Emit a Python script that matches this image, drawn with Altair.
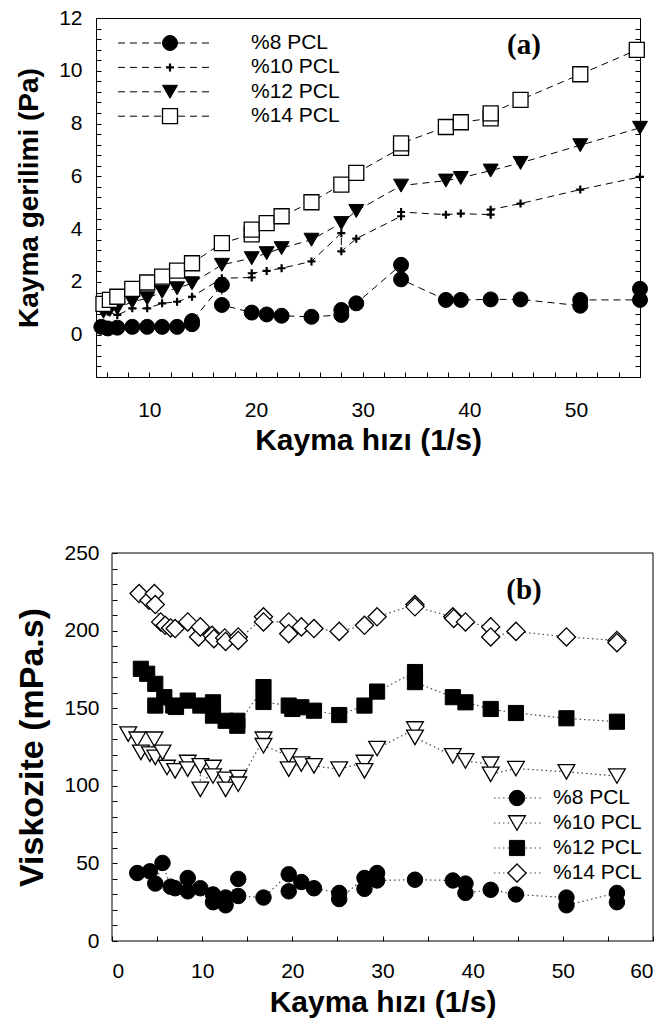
import altair as alt
import pandas as pd

names = ["%8 PCL", "%10 PCL", "%12 PCL", "%14 PCL"]

# ---------------- (a) shear stress ----------------
a8_x = [5.5, 6.1, 7.0, 8.4, 9.8, 11.2, 12.6, 14.0, 14.0, 16.8, 16.8, 19.6, 21.0, 22.4, 25.2, 28.0, 28.0, 29.4, 33.6, 33.6, 37.8, 39.2, 42.0, 44.8, 50.4, 50.4, 56.0, 56.0]
a8_y = [0.30, 0.24, 0.27, 0.30, 0.30, 0.30, 0.30, 0.40, 0.52, 1.89, 1.13, 0.84, 0.77, 0.72, 0.68, 0.75, 0.94, 1.19, 2.65, 2.10, 1.32, 1.32, 1.34, 1.34, 1.10, 1.32, 1.32, 1.74]
a10_x = [6.1, 7.0, 8.4, 9.8, 11.2, 12.6, 14.0, 16.8, 19.6, 19.6, 21.0, 22.4, 25.2, 28.0, 28.0, 29.4, 33.6, 33.6, 37.8, 39.2, 42.0, 42.0, 44.8, 50.4, 56.0]
a10_y = [0.87, 0.75, 1.00, 1.00, 1.19, 1.25, 1.44, 2.14, 2.17, 2.33, 2.42, 2.52, 2.78, 3.85, 3.16, 3.64, 4.49, 4.65, 4.55, 4.59, 4.55, 4.74, 4.97, 5.50, 5.98]
a12_x = [5.7, 6.3, 7.0, 8.4, 9.8, 11.2, 12.6, 14.0, 16.8, 19.6, 21.0, 22.4, 25.2, 28.0, 29.4, 33.6, 37.8, 39.2, 42.0, 44.8, 50.4, 56.0]
a12_y = [0.87, 0.94, 1.00, 1.25, 1.38, 1.63, 1.76, 1.95, 2.65, 2.90, 3.09, 3.28, 3.60, 4.23, 4.69, 5.65, 5.84, 5.94, 6.22, 6.51, 7.18, 7.84]
a14_x = [5.7, 6.3, 7.0, 8.4, 9.8, 11.2, 12.6, 14.0, 16.8, 19.6, 19.6, 21.0, 22.4, 25.2, 28.0, 29.4, 33.6, 33.6, 37.8, 39.2, 42.0, 42.0, 44.8, 50.4, 55.7]
a14_y = [1.17, 1.32, 1.44, 1.74, 1.98, 2.20, 2.43, 2.71, 3.47, 3.80, 3.98, 4.23, 4.49, 5.02, 5.69, 6.13, 7.08, 7.25, 7.87, 8.05, 8.20, 8.39, 8.90, 9.87, 10.79]

# ---------------- (b) viscosity ----------------
b8_x = [2.8, 4.2, 4.8, 5.6, 6.5, 7.0, 8.4, 8.4, 9.8, 11.2, 11.2, 12.6, 12.6, 14.0, 14.0, 16.8, 19.6, 19.6, 21.0, 22.4, 25.2, 25.2, 28.0, 28.0, 29.4, 29.4, 33.6, 37.8, 39.2, 39.2, 42.0, 44.8, 50.4, 50.4, 56.0, 56.0]
b8_y = [43.8, 44.9, 37.0, 50.3, 35.0, 34.0, 40.6, 32.0, 34.0, 30.0, 25.0, 28.0, 23.0, 40.0, 29.0, 28.0, 43.0, 32.0, 38.0, 34.0, 31.0, 27.0, 40.6, 33.6, 43.8, 39.0, 39.5, 39.0, 37.0, 31.0, 33.0, 30.0, 28.0, 23.0, 31.0, 25.0]
b10_x = [1.8, 2.8, 3.2, 4.2, 4.7, 4.8, 5.6, 6.1, 7.0, 8.4, 8.4, 9.8, 9.8, 11.2, 11.2, 12.6, 12.6, 14.0, 14.0, 16.8, 16.8, 19.6, 19.6, 21.0, 22.4, 25.2, 28.0, 28.0, 29.4, 33.6, 33.6, 37.8, 39.2, 42.0, 42.0, 44.8, 50.4, 56.0]
b10_y = [133.3, 130.0, 121.5, 120.4, 130.0, 118.3, 121.5, 111.8, 109.6, 115.0, 110.7, 112.8, 97.7, 111.8, 106.3, 104.2, 97.7, 105.3, 101.0, 130.0, 125.8, 119.3, 110.7, 114.0, 112.8, 110.7, 115.0, 109.6, 124.0, 136.6, 131.2, 119.3, 116.0, 113.9, 107.4, 111.1, 109.0, 106.3]
b12_x = [3.2, 3.9, 4.8, 5.8, 4.8, 6.8, 7.1, 8.4, 9.8, 11.2, 11.2, 12.6, 13.9, 13.9, 16.8, 16.8, 19.6, 20.0, 21.0, 22.4, 25.2, 28.0, 29.4, 33.6, 33.6, 37.8, 39.2, 42.0, 44.8, 50.4, 56.0]
b12_y = [175.4, 172.2, 165.7, 157.1, 151.7, 151.7, 150.8, 154.9, 151.7, 153.8, 145.2, 141.9, 141.9, 138.7, 163.6, 154.0, 151.7, 149.5, 150.6, 148.4, 145.6, 151.7, 160.7, 173.3, 166.8, 157.1, 153.8, 149.5, 146.9, 143.5, 141.3]
b14_x = [3.0, 4.1, 4.7, 4.8, 5.4, 5.9, 6.5, 7.0, 8.4, 9.6, 9.8, 11.1, 11.3, 12.5, 12.6, 14.0, 14.0, 16.8, 16.8, 19.6, 19.6, 21.0, 22.4, 25.2, 28.0, 29.4, 33.6, 33.6, 37.8, 37.9, 39.2, 42.0, 42.0, 44.8, 50.4, 56.0, 56.0]
b14_y = [223.9, 219.6, 223.9, 216.8, 205.6, 203.4, 201.7, 201.3, 205.6, 195.9, 202.4, 197.0, 194.8, 195.3, 193.0, 195.9, 193.7, 208.9, 205.6, 205.6, 198.0, 202.4, 201.3, 199.5, 203.4, 208.9, 216.8, 215.3, 208.9, 207.8, 205.6, 202.4, 195.9, 199.5, 195.9, 193.7, 192.2]

# axis tick lists
a_xticks = [6, 8, 10, 12, 14, 16, 18, 20, 22, 24, 26, 28, 30, 32, 34, 36, 38, 40, 42, 44, 46, 48, 50, 52, 54, 56]
a_yticks = [-1.6, -1.2, -0.8, -0.4, 0, 0.4, 0.8, 1.2, 1.6, 2, 2.4, 2.8, 3.2, 3.6, 4, 4.4, 4.8, 5.2, 5.6, 6,
            6.4, 6.8, 7.2, 7.6, 8, 8.4, 8.8, 9.2, 9.6, 10, 10.4, 10.8, 11.2, 11.6, 12]
b_xticks = [0, 5, 10, 15, 20, 25, 30, 35, 40, 45, 50, 55, 60]
b_yticks = [0, 10, 20, 30, 40, 50, 60, 70, 80, 90, 100, 110, 120, 130, 140, 150, 160, 170, 180, 190, 200,
            210, 220, 230, 240, 250]


def table(pairs):
    rows = []
    for name, xs, ys in pairs:
        for i, (xv, yv) in enumerate(zip(xs, ys)):
            rows.append({"series": name, "x": xv, "y": yv, "order": i})
    return pd.DataFrame(rows)


df_a = table([(names[0], a8_x, a8_y), (names[1], a10_x, a10_y), (names[2], a12_x, a12_y), (names[3], a14_x, a14_y)])
df_b = table([(names[0], b8_x, b8_y), (names[1], b10_x, b10_y), (names[2], b12_x, b12_y), (names[3], b14_x, b14_y)])

FONT = "Liberation Sans"
PLUS = "M -1 0 L 1 0 M 0 -1 L 0 1"

# ---- marker styles for (a)
a_shapes = ["circle", PLUS, "triangle-down", "square"]
a_fills = ["black", "black", "black", "white"]
a_sizes = [225, 64, 225, 225]
a_sw = [1, 2.2, 1, 1.3]
# ---- marker styles for (b)
b_shapes = ["circle", "triangle-down", "square", "diamond"]
b_fills = ["black", "white", "black", "white"]
b_sizes = [240, 280, 230, 330]
b_sw = [1, 1.3, 1, 1.3]

W_A, H_A = 544, 359
SHIFT_B = 16                     # panel (b) sits a little to the right of panel (a)
W_B, H_B = 541 + SHIFT_B, 388

xs_a = alt.Scale(domain=[5, 56], nice=False, zero=False)
ys_a = alt.Scale(domain=[-1.6, 12], nice=False, zero=False)
xs_b = alt.Scale(domain=[0, 60], nice=False, zero=False, range=[SHIFT_B, W_B])
ys_b = alt.Scale(domain=[0, 250], nice=False, zero=False)

ax_a_x = alt.Axis(title="Kayma hızı (1/s)", values=a_xticks,
                  labelExpr="datum.value % 10 == 0 ? datum.label : ''", labelOverlap=False,
                  offset=-5, tickSize=5, domain=False, labelPadding=22, titlePadding=5, titleFontSize=30)
ax_a_y = alt.Axis(title="Kayma gerilimi (Pa)", values=a_yticks,
                  labelExpr="abs(datum.value - 2*round(datum.value/2)) < 0.01 ? format(datum.value, 'd') : ''",
                  labelOverlap=False, offset=-5, tickSize=5, domain=False, labelPadding=14, titlePadding=15,
                  titleFontSize=28)
ax_a_r = alt.Axis(orient="right", title="", values=a_yticks, labels=False, offset=-5, tickSize=5, domain=False)
ax_b_x = alt.Axis(title="Kayma hızı (1/s)", values=b_xticks,
                  labelExpr="datum.value % 10 == 0 ? datum.label : ''", labelOverlap=False,
                  offset=-5, tickSize=5, domain=False, labelPadding=19, titlePadding=6, titleFontSize=30)
ax_b_y = alt.Axis(title="Viskozite (mPa.s)", values=b_yticks,
                  labelExpr="datum.value % 50 == 0 ? datum.label : ''", labelOverlap=False,
                  offset=-(SHIFT_B + 5), tickSize=5, domain=False, labelPadding=13, titlePadding=14,
                  titleFontSize=34)


def point_layers(df, xs, ys, xaxis, yaxis, shapes, fills, sizes, sws):
    out = []
    for i, name in enumerate(names):
        out.append(alt.Chart(df).transform_filter(alt.datum.series == name).mark_point(
            filled=True, stroke="black", opacity=1, fillOpacity=1, strokeOpacity=1,
            shape=shapes[i], fill=fills[i], size=sizes[i], strokeWidth=sws[i]).encode(
            x=alt.X("x:Q", scale=xs, axis=xaxis),
            y=alt.Y("y:Q", scale=ys, axis=yaxis)))
    return out


def legend_layers(shapes, fills, sizes, sws, y0, dy, lx1, lx2, mx, tx, dash, lcolor):
    out = []
    for i, name in enumerate(names):
        yv = y0 + i * dy
        d = pd.DataFrame({"s": [name]})
        out.append(alt.Chart(d).mark_rule(stroke=lcolor, strokeWidth=1, strokeDash=dash).encode(
            x=alt.value(lx1), x2=alt.value(lx2), y=alt.value(yv)))
        out.append(alt.Chart(d).mark_point(filled=True, stroke="black", opacity=1, shape=shapes[i],
                                           fill=fills[i], size=sizes[i], strokeWidth=sws[i]).encode(
            x=alt.value(mx), y=alt.value(yv)))
        out.append(alt.Chart(d).mark_text(align="left", baseline="middle", font=FONT, fontSize=21, color="black").encode(
            x=alt.value(tx), y=alt.value(yv), text="s:N"))
    return out


def panel_label(txt, xv, yv):
    return alt.Chart(pd.DataFrame({"t": [txt]})).mark_text(
        font="Liberation Serif", fontWeight="bold", fontSize=29, color="black").encode(
        x=alt.value(xv), y=alt.value(yv), text="t:N")


# ---------- chart (a)
a_lines = alt.Chart(df_a).mark_line(color="black", strokeWidth=1, strokeDash=[7, 5]).encode(
    x=alt.X("x:Q", scale=xs_a, axis=ax_a_x),
    y=alt.Y("y:Q", scale=ys_a, axis=ax_a_y),
    detail="series:N", order="order:Q")

a_right = alt.Chart(df_a).mark_point(opacity=0).encode(
    x=alt.X("x:Q", scale=xs_a, axis=ax_a_x),
    y=alt.Y("y:Q", scale=ys_a, axis=ax_a_r))

chart_a = alt.layer(
    a_lines, a_right,
    *point_layers(df_a, xs_a, ys_a, ax_a_x, None, a_shapes, a_fills, a_sizes, a_sw),
    *legend_layers(a_shapes, a_fills, a_sizes, a_sw, 25, 24.4, 22, 118, 74, 155, [7, 5], "black"),
    panel_label("(a)", 428, 27),
).resolve_axis(y="independent").properties(width=W_A, height=H_A)

# ---------- chart (b)
b_frame = alt.Chart(pd.DataFrame({"k": [0]})).mark_rect(
    filled=False, stroke="black", strokeWidth=1, fillOpacity=0).encode(
    x=alt.datum(0, scale=xs_b, axis=ax_b_x), x2=alt.datum(60),
    y=alt.datum(0, scale=ys_b, axis=ax_b_y), y2=alt.datum(250))

b_lines = alt.Chart(df_b).mark_line(color="#444444", strokeWidth=1.2, strokeDash=[1.5, 3]).encode(
    x=alt.X("x:Q", scale=xs_b, axis=ax_b_x),
    y=alt.Y("y:Q", scale=ys_b, axis=ax_b_y),
    detail="series:N", order="order:Q")

chart_b = alt.layer(
    b_frame, b_lines,
    *point_layers(df_b, xs_b, ys_b, ax_b_x, ax_b_y, b_shapes, b_fills, b_sizes, b_sw),
    *legend_layers(b_shapes, b_fills, b_sizes, b_sw, 245, 25, 382 + SHIFT_B, 429 + SHIFT_B, 405 + SHIFT_B,
                   441 + SHIFT_B, [1.5, 3], "#444444"),
    panel_label("(b)", 412 + SHIFT_B, 37),
).properties(width=W_B, height=H_B, view=alt.ViewBackground(strokeOpacity=0))

chart = alt.vconcat(chart_a, chart_b, spacing=86).properties(
    padding={"left": 15, "top": 6, "right": 5, "bottom": 5}
).configure_view(stroke="black", strokeWidth=1).configure_axis(
    labelFont=FONT, labelFontSize=21, labelColor="black", titleFont=FONT, titleFontWeight="bold",
    titleColor="black", tickColor="black", tickWidth=1, grid=False
)

chart.save("out.html", embed_options={"renderer": "svg", "actions": False})
